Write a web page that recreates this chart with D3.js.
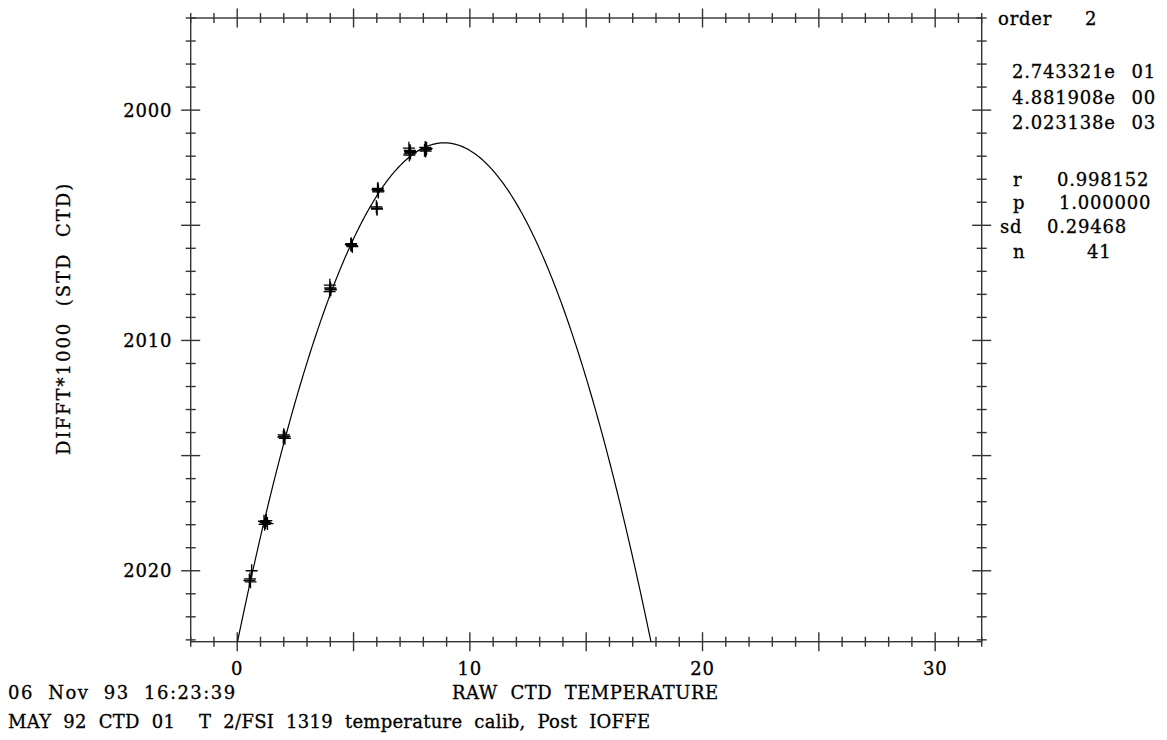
<!DOCTYPE html>
<html>
<head>
<meta charset="utf-8">
<script src="https://cdn.jsdelivr.net/npm/d3@7"></script>
<style>
  html, body { margin: 0; padding: 0; background: #fff; }
  svg text { font-family: "DejaVu Serif", serif; font-size: 18px; fill: #000; stroke: #000; stroke-width: 0.3; letter-spacing: 0.8px; white-space: pre; }
  .eje { stroke: #333; stroke-width: 1.4; fill: none; }
  .curva { stroke: #000; stroke-width: 1.2; fill: none; }
  .punto { stroke: #000; stroke-width: 1.3; fill: none; }
</style>
</head>
<body>
<div id="graf"></div>
<script>
// valores
const rawTemp = [
  0.62, 0.55, 0.57, 0.52,
  1.15, 1.22, 1.30, 1.18, 1.25,
  2.00, 2.03, 2.05, 1.98, 2.02,
  3.98, 4.00, 4.02, 3.97, 4.01,
  4.90, 4.93, 4.88, 4.95,
  6.05, 6.07, 6.03, 6.06,
  5.98, 6.01, 6.00,
  7.38, 7.42, 7.45, 7.40, 7.43, 7.41,
  8.08, 8.12, 8.10, 8.05, 8.14
]
const difft = [
  2020.00, 2020.35, 2020.48, 2020.42,
  2017.85, 2017.90, 2017.95, 2017.98, 2017.82,
  2014.10, 2014.18, 2014.25, 2014.20, 2014.15,
  2007.60, 2007.72, 2007.80, 2007.88, 2007.76,
  2005.80, 2005.88, 2005.84, 2005.92,
  2003.40, 2003.50, 2003.45, 2003.55,
  2004.20, 2004.30, 2004.26,
  2001.65, 2001.75, 2001.85, 2001.95, 2001.80, 2001.90,
  2001.62, 2001.70, 2001.78, 2001.74, 2001.66
]

// coeficientes impresos del ajuste (orden 2)
const fitOrder = 2
const fitCoef = [2.743321e1, 4.881908e0, 2.023138e3]
const statNames = ["r", "p", "sd", "n"]
const statValues = ["0.998152", "1.000000", "0.29468", "41"]

const xTicks = d3.range(-2, 33)
const xMajor = [0, 5, 10, 15, 20, 25, 30]
const xLabels = [0, 10, 20, 30]
const yTicks = d3.range(1996, 2024)
const yMajor = [2000, 2005, 2010, 2015, 2020]
const yLabels = [2000, 2010, 2020]

const xTitle = "RAW  CTD  TEMPERATURE"
const yTitle = "DIFFT*1000  (STD  CTD)"
const fecha = "06  Nov  93  16:23:39"
const titulo = "MAY  92  CTD  01    T  2/FSI  1319  temperature  calib,  Post  IOFFE"

const anchoTotal = 1167
const altoTotal = 740
const margins = { left: 190.7, top: 18, right: 1167 - 981.7, bottom: 740 - 641.7 }
const ancho = anchoTotal - margins.left - margins.right
const alto = altoTotal - margins.top - margins.bottom

const svg = d3.select("#graf")
  .append("svg")
  .attr("width", anchoTotal)
  .attr("height", altoTotal)

const g = svg.append("g")
  .attr("transform", `translate(${margins.left}, ${margins.top})`)

const x = d3.scaleLinear().domain([-2, 32]).range([0, ancho])
const y = d3.scaleLinear().domain([1996, 2023.08]).range([0, alto])

g.append("clipPath")
  .attr("id", "clip")
  .append("rect")
  .attr("width", ancho)
  .attr("height", alto)

// marco
g.append("rect")
  .attr("class", "eje")
  .attr("width", ancho)
  .attr("height", alto)

// marcas cruzando el eje, en los cuatro lados
const largo = (v, major) => (major.includes(v) ? 9.5 : 5)

;[0, alto].forEach((y0) => {
  g.append("g").selectAll("line")
    .data(xTicks)
    .join("line")
    .attr("class", "eje")
    .attr("x1", (d) => x(d))
    .attr("x2", (d) => x(d))
    .attr("y1", (d) => y0 - largo(d, xMajor))
    .attr("y2", (d) => y0 + largo(d, xMajor))
})

;[0, ancho].forEach((x0) => {
  g.append("g").selectAll("line")
    .data(yTicks)
    .join("line")
    .attr("class", "eje")
    .attr("y1", (d) => y(d))
    .attr("y2", (d) => y(d))
    .attr("x1", (d) => x0 - largo(d, yMajor))
    .attr("x2", (d) => x0 + largo(d, yMajor))
})

g.append("g").selectAll("text")
  .data(xLabels)
  .join("text")
  .attr("x", (d) => x(d))
  .attr("y", alto + 33.5)
  .attr("text-anchor", "middle")
  .text((d) => d)

g.append("g").selectAll("text")
  .data(yLabels)
  .join("text")
  .attr("x", -18.5)
  .attr("y", (d) => y(d) + 6.5)
  .attr("text-anchor", "end")
  .text((d) => d)

// curva ajustada: c0 - c1*T + (c2/100)*T^2
const ajuste = (t) => fitCoef[2] - fitCoef[1] * t + (fitCoef[0] / 100) * t * t
const curva = d3.range(-0.5, 19, 0.05).map((t) => [t, ajuste(t)])

g.append("path")
  .datum(curva)
  .attr("class", "curva")
  .attr("clip-path", "url(#clip)")
  .attr("d", d3.line().x((d) => x(d[0])).y((d) => y(d[1])))

g.append("g").selectAll("path")
  .data(rawTemp.map((t, i) => [t, difft[i]]))
  .join("path")
  .attr("class", "punto")
  .attr("transform", (d) => `translate(${x(d[0])}, ${y(d[1])})`)
  .attr("d", "M-6,0H6M0,-6.5V6.5")

// textos
svg.append("text")
  .attr("x", 452)
  .attr("y", 699)
  .attr("textLength", 267)
  .attr("lengthAdjust", "spacing")
  .text(xTitle)

svg.append("g")
  .attr("transform", "translate(70, 319) rotate(-90)")
  .append("text")
  .attr("text-anchor", "middle")
  .attr("textLength", 272)
  .attr("lengthAdjust", "spacing")
  .text(yTitle)

svg.append("text")
  .attr("x", 8)
  .attr("y", 699)
  .attr("textLength", 228)
  .attr("lengthAdjust", "spacing")
  .text(fecha)

svg.append("text")
  .attr("x", 8)
  .attr("y", 728)
  .attr("textLength", 643)
  .attr("lengthAdjust", "spacing")
  .text(titulo)

// bloque de estadisticas a la derecha
svg.append("text").attr("x", 998).attr("y", 25).text("order")
svg.append("text").attr("x", 1085).attr("y", 25).text(fitOrder)

const mantisa = (v) => v.toExponential(6).split("e")[0] + "e"
const exponente = (v) => d3.format("02")(Math.floor(Math.log10(Math.abs(v))))
const coefY = [78, 104, 129]

svg.append("g").selectAll("text")
  .data(fitCoef)
  .join("text")
  .attr("x", 1012)
  .attr("y", (d, i) => coefY[i])
  .text(mantisa)

svg.append("g").selectAll("text")
  .data(fitCoef)
  .join("text")
  .attr("x", 1156)
  .attr("y", (d, i) => coefY[i])
  .attr("text-anchor", "end")
  .text(exponente)

const statY = [186, 209, 233, 258]
const statNameX = [1013, 1013, 1000, 1013]
const statValX = [1057, 1059, 1047, 1087]

svg.append("g").selectAll("text")
  .data(statNames)
  .join("text")
  .attr("x", (d, i) => statNameX[i])
  .attr("y", (d, i) => statY[i])
  .text((d) => d)

svg.append("g").selectAll("text")
  .data(statValues)
  .join("text")
  .attr("x", (d, i) => statValX[i])
  .attr("y", (d, i) => statY[i])
  .text((d) => d)
</script>
</body>
</html>
